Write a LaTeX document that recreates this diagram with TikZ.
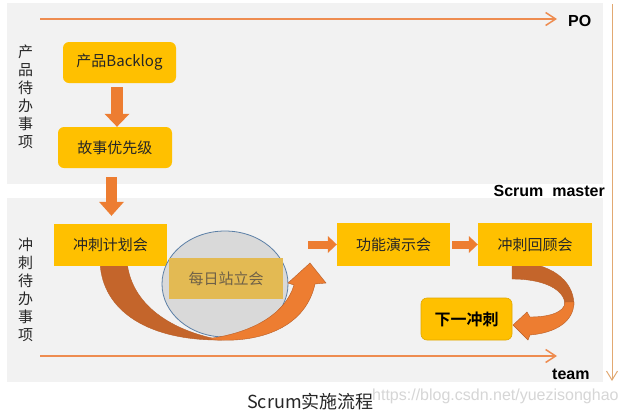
\documentclass[tikz,border=0pt]{standalone}
\usepackage{fontspec}
\setmainfont{Noto Sans CJK SC}[BoldFont={Noto Sans CJK SC Bold}]
\newfontfamily\latinfont{Liberation Sans}
\usetikzlibrary{arrows.meta,calc,shapes.geometric}

\definecolor{panelgray}{HTML}{F2F2F2}
\definecolor{boxorange}{HTML}{FFC000}
\definecolor{boxedge}{HTML}{E0A800}
\definecolor{arroworange}{HTML}{ED7D31}
\definecolor{arrowdark}{HTML}{C4652B}
\definecolor{arrowedge}{HTML}{B85E28}
\definecolor{lineorange}{HTML}{EE8C50}
\definecolor{sidetan}{HTML}{E2A972}
\definecolor{ellfill}{HTML}{D9D9D9}
\definecolor{elledge}{HTML}{5B7FA6}
\definecolor{standup}{HTML}{E3BA53}
\definecolor{standuptext}{HTML}{6E6048}
\definecolor{boxtext}{HTML}{262626}
\definecolor{markgray}{HTML}{D6D6D6}

\newcommand\fsz[1]{\fontsize{#1}{#1}\selectfont}

\tikzset{
  panel/.style={fill=panelgray, draw=none},
  box/.style={fill=boxorange, inner sep=0pt, minimum width=113pt, minimum height=42pt,
              font=\fsz{15}, text=boxtext},
  rbox/.style={box, rounded corners=6pt},
  blockarrow/.style={draw=arroworange, line cap=butt},
  timeline/.style={draw=lineorange, line width=1.5pt,
                   -{Straight Barb[length=10pt,width=13pt,line width=1.5pt]}},
  rolelabel/.style={font=\latinfont\bfseries\fsz{16}, text=black, inner sep=0pt},
  sidelabel/.style={font={\fontsize{15}{18}\selectfont}, align=center, text=boxtext, inner sep=0pt},
  curvedark/.style={fill=arrowdark, draw=arrowedge, line width=0.4pt},
  curvelight/.style={fill=arroworange, draw=arrowedge, line width=0.4pt},
}

\begin{document}
\begin{tikzpicture}[x=1pt,y=-1pt]
  \path[use as bounding box, fill=white] (0,0) rectangle (625,413);

  % two backlog panels
  \fill[panel] (7,3) rectangle (603,184);
  \fill[panel] (7,198) rectangle (603,382);

  % role timelines
  \coordinate (poS) at (40,19);
  \coordinate (poE) at (557,19);
  \draw[timeline] (poS) -- (poE);
  \coordinate (tmS) at (40,356);
  \coordinate (tmE) at (557,356);
  \draw[timeline] (tmS) -- (tmE);
  \coordinate (smS) at (612,4);
  \coordinate (smE) at (612,381);
  \draw[draw=sidetan, line width=1pt,
        -{Straight Barb[length=9pt,width=11pt,line width=1pt]}] (smS) -- (smE);

  \node[rolelabel, anchor=base west] (po) at (568,26) {PO};
  \node[rolelabel, anchor=base east] (sm) at (605,196) {Scrum~~master};
  \node[rolelabel, anchor=base west] (team) at (552,379) {team};

  % side labels
  \node[sidelabel] (pbl) at (25.5,97) {产\\品\\待\\办\\事\\项};
  \node[sidelabel] (sbl) at (25.5,290) {冲\\刺\\待\\办\\事\\项};

  % back halves of the curved arrows, drawn first so the boxes cover their tails
  \path[curvedark] (100,262) .. controls (102,312) and (150,341) .. (222,340)
    .. controls (180,333) and (132,310) .. (127,262) -- cycle;
  \path[curvedark] (512,262) .. controls (550,262) and (574,280) .. (574,305)
    -- (565,305) .. controls (565,290) and (545,279) .. (512,279) -- cycle;
  \path[curvelight] (574,302) .. controls (574,322) and (555,333) .. (530,335)
    -- (528,340) -- (513,325) -- (527,312) -- (530,317)
    .. controls (550,317) and (565,312) .. (565,302) -- cycle;

  % product backlog boxes
  \node[rbox, minimum width=113pt, minimum height=41pt] (pb) at (119.5,62.5) {产品Backlog};
  \node[rbox, minimum width=114pt, minimum height=41pt] (gs) at (115,147.5) {故事优先级};

  % sprint boxes
  \node[box, minimum width=113pt, minimum height=42pt] (jh) at (110.5,245) {冲刺计划会};
  \node[box, minimum width=113pt, minimum height=43pt] (gn) at (393.5,244.5) {功能演示会};
  \node[box, minimum width=114pt, minimum height=43pt] (hg) at (535,244.5) {冲刺回顾会};

  % block arrows between boxes
  \draw[blockarrow, line width=12pt, -{Triangle[length=13pt,width=25pt,line width=0pt]}]
    ([shift={(-2.5,4)}]pb.south) -- ([xshift=2pt]gs.north);
  \draw[blockarrow, line width=11pt, -{Triangle[length=14pt,width=25pt,line width=0pt]}]
    ([shift={(-3.5,9)}]gs.south) -- ([shift={(1,-8)}]jh.north);

  % daily stand-up
  \node[ellipse, draw=elledge, fill=ellfill, line width=0.8pt, inner sep=0pt,
        minimum width=126pt, minimum height=106pt] (ell) at (225,284) {};
  \path[curvelight] (205,339) .. controls (255,345) and (305,330) .. (315,284)
    -- (326,283) -- (310,263) -- (288,283) -- (294,285)
    .. controls (285,315) and (250,334) .. (205,339) -- cycle;
  \node[fill=standup, inner sep=0pt, minimum width=114pt, minimum height=41pt,
        font=\fsz{15}, text=standuptext] (mr) at (226,278.5) {每日站立会};

  \coordinate (cu) at (308,244.5);
  \draw[blockarrow, line width=8pt, -{Triangle[length=9pt,width=17pt,line width=0pt]}]
    (cu) -- (gn.west);
  \draw[blockarrow, line width=8pt, -{Triangle[length=9pt,width=17pt,line width=0pt]}]
    ([xshift=2pt]gn.east) -- (hg.west);

  % next sprint
  \node[rbox, draw=boxedge, line width=0.6pt, minimum width=91pt, minimum height=42pt,
        font=\bfseries\fsz{16}, text=black] (xy) at (466.5,319) {下一冲刺};

  % caption and source mark
  \node[anchor=base west, inner sep=0pt, font=\fsz{18}, text=boxtext] (cap) at (247,408) {Scrum实施流程};
  \node[anchor=base west, inner sep=0pt, font=\latinfont\fsz{16}, text=markgray] (wm) at (372,400)
    {https://blog.csdn.net/yuezisonghao};
\end{tikzpicture}
\end{document}
